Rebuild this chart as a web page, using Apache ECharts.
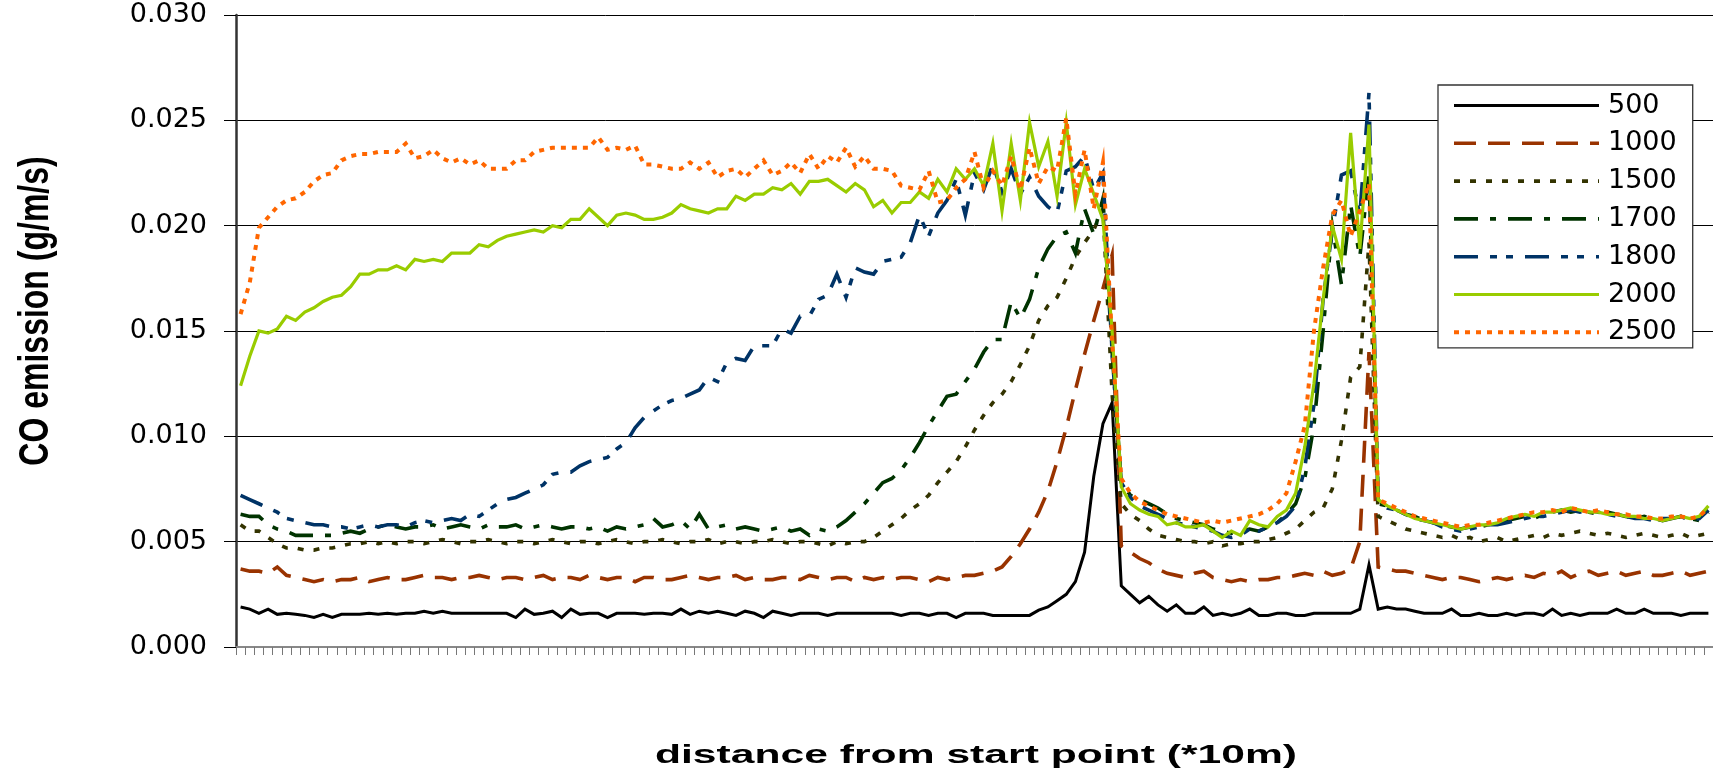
<!DOCTYPE html>
<html>
<head>
<meta charset="utf-8">
<title>CO emission along the route</title>
<script src="https://cdn.jsdelivr.net/npm/echarts@6/dist/echarts.min.js"></script>
<style>
  html, body { margin: 0; padding: 0; background: #fff; }
  #chart { width: 1713px; height: 779px; }
</style>
</head>
<body>
<div id="chart"></div>
<script>
// CO emission (g/m/s) sampled every 10 m, one series per traffic volume.
const s500 = [
  0.0019, 0.0018, 0.0016, 0.0018, 0.00155, 0.0016, 0.00155, 0.0015, 0.0014, 0.00155,
  0.0014, 0.00155, 0.00155, 0.00155, 0.0016, 0.00155, 0.0016, 0.00155, 0.0016, 0.0016,
  0.0017, 0.0016, 0.0017, 0.0016, 0.0016, 0.0016, 0.0016, 0.0016, 0.0016, 0.0016,
  0.0014, 0.0018, 0.00155, 0.0016, 0.0017, 0.0014, 0.0018, 0.00155, 0.0016, 0.0016,
  0.0014, 0.0016, 0.0016, 0.0016, 0.00155, 0.0016, 0.0016, 0.00155, 0.0018, 0.00155,
  0.0017, 0.0016, 0.0017, 0.0016, 0.0015, 0.0017, 0.0016, 0.0014, 0.0017, 0.0016,
  0.0015, 0.0016, 0.0016, 0.0016, 0.0015, 0.0016, 0.0016, 0.0016, 0.0016, 0.0016,
  0.0016, 0.0016, 0.0015, 0.0016, 0.0016, 0.0015, 0.0016, 0.0016, 0.0014, 0.0016,
  0.0016, 0.0016, 0.0015, 0.0015, 0.0015, 0.0015, 0.0015, 0.00175, 0.0019, 0.0022,
  0.0025, 0.0031, 0.0045, 0.0081, 0.0106, 0.0116, 0.0029, 0.0025, 0.0021, 0.0024,
  0.0020, 0.0017, 0.0020, 0.0016, 0.0016, 0.0019, 0.0015, 0.0016, 0.0015, 0.0016,
  0.0018, 0.0015, 0.0015, 0.0016, 0.0016, 0.0015, 0.0015, 0.0016, 0.0016, 0.0016,
  0.0016, 0.0016, 0.0018, 0.0039, 0.0018, 0.0019, 0.0018, 0.0018, 0.0017, 0.0016,
  0.0016, 0.0016, 0.0018, 0.0015, 0.0015, 0.0016, 0.0015, 0.0015, 0.0016, 0.0015,
  0.0016, 0.0016, 0.0015, 0.0018, 0.0015, 0.0016, 0.0015, 0.0016, 0.0016, 0.0016,
  0.0018, 0.0016, 0.0016, 0.0018, 0.0016, 0.0016, 0.0016, 0.0015, 0.0016, 0.0016, 0.0016
];
const s1000 = [
  0.0037, 0.0036, 0.0036, 0.0035, 0.0038, 0.0034, 0.0033, 0.0032, 0.0031, 0.0032,
  0.0031, 0.0032, 0.0032, 0.0033, 0.0031, 0.0032, 0.0033, 0.0032, 0.0032, 0.0033,
  0.0034, 0.0033, 0.0033, 0.0032, 0.0033, 0.0033, 0.0034, 0.0033, 0.0032, 0.0033,
  0.0033, 0.0032, 0.0033, 0.0034, 0.0032, 0.0033, 0.0033, 0.0032, 0.0034, 0.0033,
  0.0032, 0.0033, 0.0033, 0.0031, 0.0033, 0.0033, 0.0032, 0.0032, 0.0033, 0.0034,
  0.0033, 0.0032, 0.0033, 0.0033, 0.0034, 0.0032, 0.0033, 0.0032, 0.0032, 0.0033,
  0.0033, 0.0032, 0.0034, 0.0033, 0.0032, 0.0033, 0.0033, 0.0031, 0.0033, 0.0032,
  0.0033, 0.0032, 0.0033, 0.0033, 0.0032, 0.0031, 0.0033, 0.0032, 0.0033, 0.0034,
  0.0034, 0.0035, 0.0036, 0.0038, 0.0043, 0.0049, 0.0056, 0.0064, 0.0074, 0.0088,
  0.0104, 0.0122, 0.0139, 0.0155, 0.0170, 0.0186, 0.0048, 0.0045, 0.0042, 0.0040,
  0.0037, 0.0035, 0.0034, 0.0033, 0.0035, 0.0036, 0.0033, 0.0032, 0.0031, 0.0032,
  0.0031, 0.0032, 0.0032, 0.0033, 0.0033, 0.0034, 0.0035, 0.0034, 0.0036, 0.0034,
  0.0035, 0.0037, 0.0050, 0.0140, 0.0038, 0.0037, 0.0036, 0.0036, 0.0035, 0.0034,
  0.0033, 0.0032, 0.0033, 0.0033, 0.0032, 0.0031, 0.0032, 0.0033, 0.0032, 0.0033,
  0.0034, 0.0033, 0.0035, 0.0034, 0.0036, 0.0033, 0.0035, 0.0036, 0.0034, 0.0035,
  0.0036, 0.0034, 0.0035, 0.0036, 0.0034, 0.0034, 0.0035, 0.0036, 0.0034, 0.0035, 0.0036
];
const s1500 = [
  0.0058, 0.0055, 0.0055, 0.0052, 0.0049, 0.0047, 0.0047, 0.0046, 0.0046, 0.0047,
  0.0047, 0.0048, 0.0049, 0.0049, 0.0050, 0.0049, 0.0050, 0.0049, 0.0050, 0.0050,
  0.0049, 0.0050, 0.0051, 0.0050, 0.0049, 0.0050, 0.0050, 0.0051, 0.0050, 0.0049,
  0.0050, 0.0050, 0.0049, 0.0050, 0.0051, 0.0050, 0.0049, 0.0050, 0.0050, 0.0049,
  0.0050, 0.0051, 0.0050, 0.0049, 0.0050, 0.0050, 0.0051, 0.0050, 0.0049, 0.0050,
  0.0050, 0.0051, 0.0049, 0.0050, 0.0050, 0.0049, 0.0050, 0.0050, 0.0051, 0.0050,
  0.0049, 0.0050, 0.0050, 0.0049, 0.0048, 0.0050, 0.0049, 0.0050, 0.0050, 0.0052,
  0.0055, 0.0058, 0.0061, 0.0065, 0.0068, 0.0072, 0.0078, 0.0083, 0.0088, 0.0095,
  0.0103, 0.0110, 0.0116, 0.0120, 0.0126, 0.0134, 0.0143, 0.0155, 0.0162, 0.0166,
  0.0175, 0.0185, 0.0192, 0.0198, 0.0208, 0.0120, 0.0068, 0.0063, 0.0060, 0.0056,
  0.0053, 0.0052, 0.0051, 0.0050, 0.0050, 0.0049, 0.0050, 0.0048, 0.0049, 0.0049,
  0.0050, 0.0050, 0.0051, 0.0052, 0.0054, 0.0056, 0.0060, 0.0064, 0.0066, 0.0075,
  0.0098, 0.0128, 0.0133, 0.0192, 0.0062, 0.0060, 0.0058, 0.0056, 0.0055, 0.0054,
  0.0053, 0.0052, 0.0053, 0.0051, 0.0052, 0.0050, 0.0051, 0.0052, 0.0050, 0.0051,
  0.0052, 0.0053, 0.0052, 0.0054, 0.0053, 0.0054, 0.0055, 0.0054, 0.0053, 0.0054,
  0.0053, 0.0052, 0.0053, 0.0054, 0.0053, 0.0052, 0.0053, 0.0054, 0.0052, 0.0053, 0.0054
];
const s1700 = [
  0.0063, 0.0062, 0.0062, 0.0058, 0.0056, 0.0055, 0.0053, 0.0053, 0.0053, 0.0053,
  0.0053, 0.0054, 0.0055, 0.0054, 0.0056, 0.0057, 0.0058, 0.0057, 0.0056, 0.0057,
  0.0057, 0.0058, 0.0056, 0.0057, 0.0058, 0.0057, 0.0056, 0.0058, 0.0057, 0.0057,
  0.0058, 0.0056, 0.0057, 0.0058, 0.0057, 0.0056, 0.0057, 0.0057, 0.0056, 0.0057,
  0.0055, 0.0057, 0.0056, 0.0057, 0.0058, 0.0061, 0.0057, 0.0058, 0.0060, 0.0056,
  0.0063, 0.0056, 0.0057, 0.0058, 0.0056, 0.0057, 0.0056, 0.0055, 0.0056, 0.0057,
  0.0055, 0.0056, 0.0053, 0.0056, 0.0055, 0.0057, 0.0060, 0.0064, 0.0068, 0.0073,
  0.0078, 0.0080, 0.0084, 0.0090, 0.0097, 0.0105, 0.0112, 0.0119, 0.0120, 0.0126,
  0.0132, 0.0140, 0.0146, 0.0146, 0.0164, 0.0156, 0.0165, 0.0180, 0.0189, 0.0195,
  0.0197, 0.0187, 0.0208, 0.0196, 0.0213, 0.0140, 0.0078, 0.0072, 0.0070, 0.0068,
  0.0066, 0.0063, 0.0061, 0.0060, 0.0059, 0.0058, 0.0056, 0.0055, 0.0054, 0.0055,
  0.0056, 0.0055, 0.0057, 0.0059, 0.0063, 0.0068, 0.0080, 0.0105, 0.0150, 0.0200,
  0.0172, 0.0210, 0.0185, 0.0225, 0.0068, 0.0067, 0.0065, 0.0063, 0.0062, 0.0060,
  0.0059, 0.0058, 0.0057, 0.0056, 0.0057, 0.0057, 0.0058, 0.0059, 0.0060, 0.0061,
  0.0062, 0.0061, 0.0063, 0.0064, 0.0065, 0.0064, 0.0065, 0.0064, 0.0063, 0.0064,
  0.0063, 0.0062, 0.0061, 0.0062, 0.0061, 0.0060, 0.0061, 0.0062, 0.0061, 0.0060, 0.0064
];
const s1800 = [
  0.0072, 0.0070, 0.0068, 0.0066, 0.0064, 0.0061, 0.0060, 0.0059, 0.0058, 0.0058,
  0.0057, 0.0057, 0.0056, 0.0057, 0.0058, 0.0057, 0.0058, 0.0058, 0.0057, 0.0059,
  0.0060, 0.0059, 0.0060, 0.0061, 0.0060, 0.0063, 0.0062, 0.0065, 0.0068, 0.0070,
  0.0071, 0.0073, 0.0075, 0.0077, 0.0082, 0.0083, 0.0083, 0.0086, 0.0088, 0.0089,
  0.0090, 0.0094, 0.0097, 0.0104, 0.0109, 0.0112, 0.0115, 0.0117, 0.0118, 0.0120,
  0.0122, 0.0128, 0.0126, 0.0135, 0.0137, 0.0136, 0.0143, 0.0143, 0.0143, 0.0151,
  0.0149, 0.0157, 0.0157, 0.0165, 0.0167, 0.0177, 0.0166, 0.0180, 0.0178, 0.0177,
  0.0183, 0.0184, 0.0185, 0.0192, 0.0205, 0.0195, 0.0206, 0.0212, 0.0222, 0.0205,
  0.0225, 0.0217, 0.0229, 0.0216, 0.0227, 0.0215, 0.0223, 0.0214, 0.0209, 0.0206,
  0.0226, 0.0228, 0.0233, 0.0217, 0.0225, 0.0140, 0.0078, 0.0071, 0.0067, 0.0065,
  0.0063, 0.0061, 0.0059, 0.0058, 0.0057, 0.0056, 0.0055, 0.0053, 0.0052, 0.0053,
  0.0056, 0.0055, 0.0057, 0.0059, 0.0062, 0.0067, 0.0085, 0.0115, 0.0165, 0.0198,
  0.0224, 0.0226, 0.0205, 0.0263, 0.0069, 0.0066, 0.0065, 0.0063, 0.0061, 0.0060,
  0.0059, 0.0057, 0.0056, 0.0055, 0.0056, 0.0057, 0.0058, 0.0058, 0.0059, 0.0060,
  0.0061, 0.0062, 0.0062, 0.0063, 0.0064, 0.0065, 0.0064, 0.0065, 0.0064, 0.0063,
  0.0062, 0.0062, 0.0061, 0.0061, 0.0060, 0.0061, 0.0061, 0.0062, 0.0060, 0.0061, 0.0065
];
const s2000 = [
  0.0124, 0.0138, 0.0150, 0.0149, 0.0151, 0.0157, 0.0155, 0.0159, 0.0161, 0.0164,
  0.0166, 0.0167, 0.0171, 0.0177, 0.0177, 0.0179, 0.0179, 0.0181, 0.0179, 0.0184,
  0.0183, 0.0184, 0.0183, 0.0187, 0.0187, 0.0187, 0.0191, 0.0190, 0.0193, 0.0195,
  0.0196, 0.0197, 0.0198, 0.0197, 0.0200, 0.0199, 0.0203, 0.0203, 0.0208, 0.0204,
  0.0200, 0.0205, 0.0206, 0.0205, 0.0203, 0.0203, 0.0204, 0.0206, 0.0210, 0.0208,
  0.0207, 0.0206, 0.0208, 0.0208, 0.0214, 0.0212, 0.0215, 0.0215, 0.0218, 0.0217,
  0.0220, 0.0215, 0.0221, 0.0221, 0.0222, 0.0219, 0.0216, 0.0220, 0.0217, 0.0209,
  0.0212, 0.0206, 0.0211, 0.0211, 0.0216, 0.0213, 0.0222, 0.0216, 0.0227, 0.0222,
  0.0227, 0.0219, 0.0239, 0.0207, 0.0239, 0.0212, 0.0249, 0.0228, 0.0240, 0.0214,
  0.0249, 0.0210, 0.0227, 0.0215, 0.0203, 0.0150, 0.0076, 0.0068, 0.0065, 0.0063,
  0.0062, 0.0058, 0.0059, 0.0057, 0.0057, 0.0058, 0.0055, 0.0052, 0.0055, 0.0053,
  0.0060, 0.0058, 0.0057, 0.0062, 0.0065, 0.0073, 0.0095, 0.0125, 0.0165, 0.0200,
  0.0184, 0.0244, 0.0189, 0.0248, 0.0070, 0.0067, 0.0065, 0.0063, 0.0061, 0.0060,
  0.0059, 0.0058, 0.0057, 0.0056, 0.0057, 0.0058, 0.0058, 0.0059, 0.0061, 0.0062,
  0.0063, 0.0062, 0.0064, 0.0064, 0.0065, 0.0066, 0.0065, 0.0064, 0.0064, 0.0063,
  0.0063, 0.0062, 0.0062, 0.0061, 0.0061, 0.0060, 0.0061, 0.0062, 0.0061, 0.0062, 0.0067
];
const s2500 = [
  0.0158, 0.0173, 0.0199, 0.0204, 0.0209, 0.0212, 0.0213, 0.0216, 0.0221, 0.0224,
  0.0225, 0.0231, 0.0233, 0.0234, 0.0234, 0.0235, 0.0235, 0.0235, 0.0239, 0.0232,
  0.0233, 0.0236, 0.0232, 0.0230, 0.0232, 0.0229, 0.0231, 0.0227, 0.0227, 0.0227,
  0.0231, 0.0231, 0.0235, 0.0236, 0.0237, 0.0237, 0.0237, 0.0237, 0.0237, 0.0242,
  0.0236, 0.0237, 0.0236, 0.0238, 0.0229, 0.0229, 0.0228, 0.0227, 0.0227, 0.0230,
  0.0227, 0.0230, 0.0223, 0.0226, 0.0227, 0.0223, 0.0227, 0.0231, 0.0224, 0.0226,
  0.0230, 0.0225, 0.0234, 0.0227, 0.0233, 0.0230, 0.0237, 0.0228, 0.0233, 0.0227,
  0.0227, 0.0226, 0.0219, 0.0218, 0.0217, 0.0226, 0.0211, 0.0212, 0.0218, 0.0222,
  0.0235, 0.0218, 0.0226, 0.0219, 0.0233, 0.0217, 0.0237, 0.0220, 0.0228, 0.0226,
  0.0251, 0.0215, 0.0236, 0.0208, 0.0230, 0.0145, 0.0080, 0.0073, 0.0069, 0.0067,
  0.0065, 0.0063, 0.0062, 0.0061, 0.0060, 0.0059, 0.0060, 0.0059, 0.0060, 0.0061,
  0.0062, 0.0063, 0.0065, 0.0068, 0.0073, 0.0088, 0.0105, 0.0150, 0.0180, 0.0205,
  0.0212, 0.0195, 0.0207, 0.0220, 0.0070, 0.0068, 0.0066, 0.0064, 0.0062, 0.0061,
  0.0060, 0.0059, 0.0058, 0.0057, 0.0058, 0.0058, 0.0059, 0.0060, 0.0061, 0.0062,
  0.0063, 0.0064, 0.0064, 0.0065, 0.0064, 0.0066, 0.0065, 0.0064, 0.0065, 0.0064,
  0.0063, 0.0063, 0.0062, 0.0062, 0.0061, 0.0061, 0.0062, 0.0062, 0.0061, 0.0062, 0.0066
];

// one category per 10 m step
const distanceSteps = s500.map((_, i) => String(i + 1));
const yTickLabels = ['0.000', '0.005', '0.010', '0.015', '0.020', '0.025', '0.030'];

const seriesDefs = [
  { name: '500',  data: s500,  color: '#000000', width: 3.0, dash: 'solid' },
  { name: '1000', data: s1000, color: '#993300', width: 3.6, dash: [22, 12] },
  { name: '1500', data: s1500, color: '#333300', width: 3.6, dash: [6, 10] },
  { name: '1700', data: s1700, color: '#003300', width: 3.6, dash: [24, 12, 6, 12] },
  { name: '1800', data: s1800, color: '#003366', width: 3.6, dash: [24, 12, 7, 9, 7, 12] },
  { name: '2000', data: s2000, color: '#99CC00', width: 3.2, dash: 'solid' },
  { name: '2500', data: s2500, color: '#FF6600', width: 4.0, dash: [5, 6] }
];

const chart = echarts.init(document.getElementById('chart'), null, { renderer: 'canvas' });

chart.setOption({
  backgroundColor: '#ffffff',
  animation: false,
  grid: { left: 236, right: 0, top: 15, bottom: 132, containLabel: false },
  xAxis: {
    type: 'category',
    data: distanceSteps,
    boundaryGap: true,
    axisLine: { lineStyle: { color: '#888888', width: 2 } },
    axisTick: { show: true, interval: 0, length: 8, lineStyle: { color: '#777777', width: 1 } },
    axisLabel: { show: false },
    splitLine: { show: false }
  },
  yAxis: {
    type: 'value',
    min: 0,
    max: 0.03,
    interval: 0.005,
    axisLine: { show: true, lineStyle: { color: '#333333', width: 2.5 } },
    axisTick: { show: true, inside: false, length: 12, lineStyle: { color: '#000000', width: 1 } },
    axisLabel: {
      margin: 29,
      color: '#000000',
      fontFamily: 'DejaVu Sans',
      fontSize: 27,
      formatter: (v) => yTickLabels[Math.round(v / 0.005)]
    },
    splitLine: { show: true, lineStyle: { color: '#000000', width: 1 } }
  },
  legend: {
    orient: 'vertical',
    left: 1438,
    top: 85,
    padding: [7, 16, 2, 14],
    itemWidth: 145,
    itemHeight: 14,
    itemGap: 10.8,
    backgroundColor: '#ffffff',
    borderColor: '#333333',
    borderWidth: 1.3,
    borderRadius: 0,
    selectedMode: false,
    itemStyle: { opacity: 0, borderWidth: 0 },
    lineStyle: { width: 'inherit', type: 'inherit', color: 'inherit' },
    textStyle: {
      color: '#000000',
      fontFamily: 'DejaVu Sans',
      fontSize: 27,
      lineHeight: 24,
      padding: [0, 0, 0, 4]
    },
    data: seriesDefs.map(d => d.name)
  },
  graphic: [
    {
      type: 'text',
      x: 37,
      y: 311,
      rotation: Math.PI / 2,
      scaleY: 1.3,
      style: {
        text: 'CO emission (g/m/s)',
        font: 'bold 32px "Liberation Sans", Arial, sans-serif',
        fill: '#000000',
        textAlign: 'center',
        textVerticalAlign: 'middle'
      }
    },
    {
      type: 'text',
      x: 976,
      y: 756,
      scaleX: 1.64,
      style: {
        text: 'distance from start point (*10m)',
        font: 'bold 26px "Liberation Sans", Arial, sans-serif',
        fill: '#000000',
        textAlign: 'center',
        textVerticalAlign: 'middle'
      }
    }
  ],
  series: seriesDefs.map(d => ({
    name: d.name,
    type: 'line',
    data: d.data,
    symbol: 'none',
    showSymbol: false,
    smooth: false,
    silent: true,
    lineStyle: { color: d.color, width: d.width, type: d.dash, cap: 'butt', join: 'miter' },
    itemStyle: { color: d.color },
    emphasis: { disabled: true }
  }))
});
</script>
</body>
</html>
